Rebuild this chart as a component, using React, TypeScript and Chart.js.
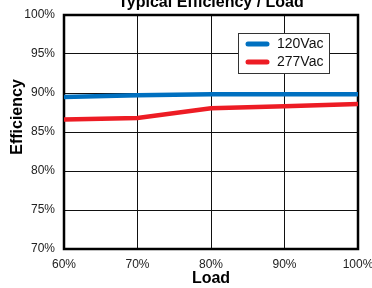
import React, { useEffect, useRef } from "react";
import { Chart, registerables } from "chart.js";

Chart.register(...registerables);

const loads = [60, 70, 80, 90, 100];
const eff120 = [89.5, 89.7, 89.85, 89.85, 89.85];
const eff277 = [86.6, 86.8, 88.05, 88.3, 88.6];
const seriesNames = ["120Vac", "277Vac"];
const seriesColors = ["#0070C0", "#ED1C24"];
const titleText = "Typical Efficiency / Load";
const xTitle = "Load";
const yTitle = "Efficiency";

const FONT = "'Liberation Sans', Arial, sans-serif";

const decorPlugin = {
  id: "decor",
  beforeDatasetsDraw(chart: any) {
    const { ctx, chartArea: a } = chart;
    ctx.save();
    ctx.strokeStyle = "#000";
    ctx.lineWidth = 2.5;
    ctx.strokeRect(a.left, a.top, a.right - a.left, a.bottom - a.top);
    ctx.restore();
  },
  afterDraw(chart: any) {
    const { ctx, chartArea: a } = chart;
    ctx.save();
    ctx.fillStyle = "#000";
    ctx.font = `bold 16px ${FONT}`;
    ctx.textAlign = "center";
    ctx.textBaseline = "alphabetic";
    ctx.fillText(titleText, (a.left + a.right) / 2, 7);
    ctx.textBaseline = "middle";
    ctx.fillText(xTitle, (a.left + a.right) / 2, 279);
    ctx.save();
    ctx.translate(18, 117);
    ctx.rotate(-Math.PI / 2);
    ctx.fillText(yTitle, 0, 0);
    ctx.restore();
    const bx = 238, by = 33, bw = 91, bh = 40;
    ctx.fillStyle = "#fff";
    ctx.fillRect(bx, by, bw, bh);
    ctx.strokeStyle = "#333";
    ctx.lineWidth = 1;
    ctx.strokeRect(bx + 0.5, by + 0.5, bw, bh);
    chart.data.datasets.forEach((ds: any, i: number) => {
      const y = 44 + i * 18;
      ctx.strokeStyle = ds.borderColor;
      ctx.lineWidth = 5;
      ctx.lineCap = "round";
      ctx.beginPath();
      ctx.moveTo(248, y);
      ctx.lineTo(267, y);
      ctx.stroke();
      ctx.fillStyle = "#111";
      ctx.font = `14px ${FONT}`;
      ctx.textAlign = "left";
      ctx.textBaseline = "middle";
      ctx.fillText(ds.label, 277, y + 0.5);
    });
    ctx.restore();
  },
};

export default function App() {
  const ref = useRef<HTMLCanvasElement>(null);
  useEffect(() => {
    if (!ref.current) return;
    const chart = new Chart(ref.current, {
      type: "line",
      data: {
        datasets: [
          {
            label: seriesNames[0],
            data: loads.map((x, i) => ({ x, y: eff120[i] })),
            borderColor: seriesColors[0],
            backgroundColor: seriesColors[0],
            borderWidth: 4.5,
            pointRadius: 0,
            tension: 0,
          },
          {
            label: seriesNames[1],
            data: loads.map((x, i) => ({ x, y: eff277[i] })),
            borderColor: seriesColors[1],
            backgroundColor: seriesColors[1],
            borderWidth: 4.5,
            pointRadius: 0,
            tension: 0,
          },
        ],
      },
      options: {
        responsive: false,
        animation: false,
        devicePixelRatio: 1,
        layout: { padding: { left: 0, right: 14, top: 15, bottom: 0 } },
        plugins: {
          legend: { display: false },
          title: { display: false },
          tooltip: { enabled: false },
        },
        scales: {
          x: {
            type: "linear",
            min: 60,
            max: 100,
            ticks: {
              stepSize: 10,
              padding: 8,
              color: "#222",
              font: { family: FONT, size: 12 },
              callback: (v: any) => `${v}%`,
            },
            grid: { color: "#111", lineWidth: 1, drawTicks: false },
            border: { display: false },
            afterFit: (s: any) => {
              s.height = 39;
              s.paddingLeft = 0;
              s.paddingRight = 0;
            },
          },
          y: {
            min: 70,
            max: 100,
            ticks: {
              stepSize: 5,
              padding: 9,
              color: "#222",
              font: { family: FONT, size: 12 },
              callback: (v: any) => `${v}%`,
            },
            grid: { color: "#111", lineWidth: 1, drawTicks: false },
            border: { display: false },
            afterFit: (s: any) => {
              s.width = 64;
              s.paddingTop = 0;
              s.paddingBottom = 0;
            },
          },
        },
      },
      plugins: [decorPlugin],
    });
    return () => chart.destroy();
  }, []);
  return (
    <div style={{ position: "fixed", left: 0, top: 0, width: 372, height: 288, background: "#fff" }}>
      <canvas ref={ref} width={372} height={288} style={{ display: "block" }} />
    </div>
  );
}
